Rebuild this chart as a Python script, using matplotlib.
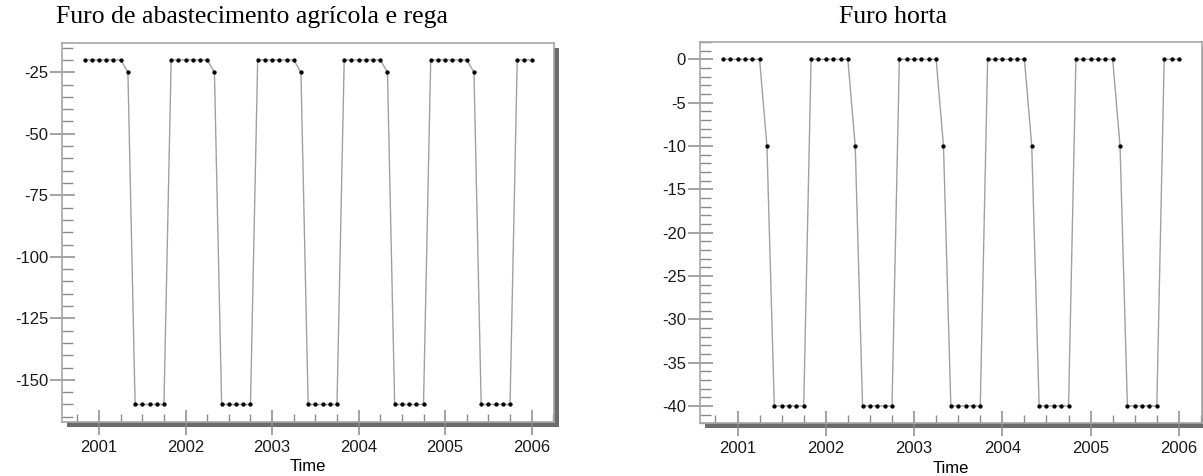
import numpy as np
import matplotlib
matplotlib.use("Agg")
import matplotlib.pyplot as plt
from matplotlib.patches import Rectangle
from matplotlib.ticker import MultipleLocator

plt.rcParams["axes.unicode_minus"] = False

# ---- data (monthly, Nov 2000 .. Jan 2006) ----
start_time = 2000 + 10 / 12  # November 2000
agricola = [-20, -20, -20, -20, -20, -20, -25, -160, -160, -160, -160, -160,
            -20, -20, -20, -20, -20, -20, -25, -160, -160, -160, -160, -160,
            -20, -20, -20, -20, -20, -20, -25, -160, -160, -160, -160, -160,
            -20, -20, -20, -20, -20, -20, -25, -160, -160, -160, -160, -160,
            -20, -20, -20, -20, -20, -20, -25, -160, -160, -160, -160, -160,
            -20, -20, -20]
horta = [0, 0, 0, 0, 0, 0, -10, -40, -40, -40, -40, -40,
         0, 0, 0, 0, 0, 0, -10, -40, -40, -40, -40, -40,
         0, 0, 0, 0, 0, 0, -10, -40, -40, -40, -40, -40,
         0, 0, 0, 0, 0, 0, -10, -40, -40, -40, -40, -40,
         0, 0, 0, 0, 0, 0, -10, -40, -40, -40, -40, -40,
         0, 0, 0]
time = start_time + np.arange(len(agricola)) / 12

titles = ["Furo de abastecimento agrícola e rega", "Furo horta"]
x_label = "Time"
x_ticks = [2001, 2002, 2003, 2004, 2005, 2006]

W, H = 1203, 476
fig = plt.figure(figsize=(W / 100, H / 100), dpi=100)

def px_rect(x0, y0, x1, y1):
    return [x0 / W, 1 - y1 / H, (x1 - x0) / W, (y1 - y0) / H]

boxes = [(62.3, 42.7, 554, 421.7), (700, 42, 1201.7, 423.3)]
series = [agricola, horta]
majors = [25, 5]
minors = [5, 1]
title_x = [252, 893]

spine_col = "#a6a6a6"
tick_col = "#8a8a8a"
shadow_col = "#6c6c6c"
sans = ["Liberation Sans", "DejaVu Sans"]

for k in range(2):
    x0, y0, x1, y1 = boxes[k]
    ax = fig.add_axes(px_rect(x0, y0, x1, y1))
    # drop shadow
    sh = 5
    fig.patches.append(Rectangle(((x0 + sh) / W, 1 - (y1 + sh) / H),
                                 (x1 - x0) / W, (y1 - y0) / H,
                                 transform=fig.transFigure, facecolor=shadow_col,
                                 edgecolor="none", zorder=-5))
    ax.set_facecolor("white")
    ax.plot(time, series[k], color="#a0a0a0", lw=1.0, zorder=2)
    ax.plot(time, series[k], linestyle="none", marker="o", ms=2.1,
            color="black", zorder=3)
    ax.set_xticks(x_ticks)
    ax.xaxis.set_minor_locator(MultipleLocator(0.25))
    ax.yaxis.set_major_locator(MultipleLocator(majors[k]))
    ax.yaxis.set_minor_locator(MultipleLocator(minors[k]))
    for sp in ax.spines.values():
        sp.set_color(spine_col)
        sp.set_linewidth(1.2)
    ax.tick_params(which="major", direction="inout", length=18, width=1.1,
                   color=tick_col, labelsize=12, labelcolor="#1a1a1a", pad=1)
    ax.tick_params(which="minor", direction="in", length=8, width=1.0,
                   color=tick_col)
    ax.tick_params(axis="x", which="major", pad=4)
    ax.tick_params(axis="x", which="minor", length=6)
    for lab in ax.get_xticklabels() + ax.get_yticklabels():
        lab.set_fontfamily(sans)
    ax.set_xlabel(x_label, fontsize=12, family=sans, labelpad=3)
    fig.text(title_x[k] / W, 1 - 17 / H, titles[k], ha="center", va="center",
             fontsize=18.5, family=["Liberation Serif", "DejaVu Serif"])

fig.savefig("out.png", dpi=100, facecolor="white")
